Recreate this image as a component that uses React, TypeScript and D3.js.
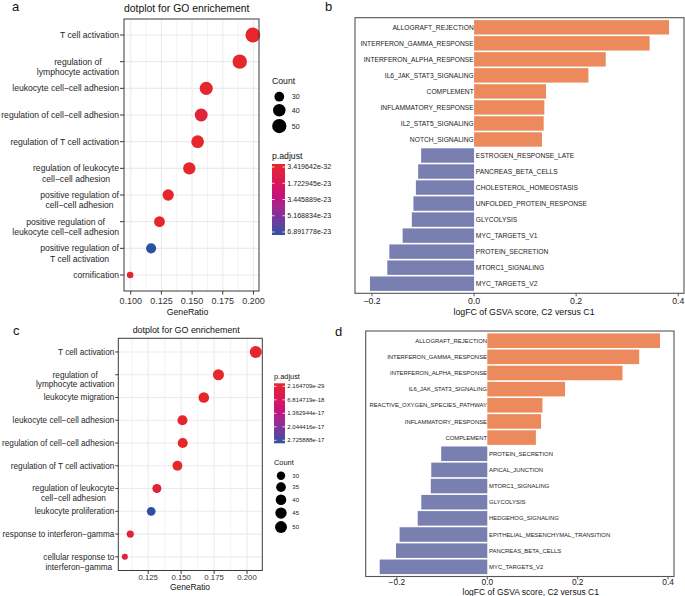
import React from "react";
import * as d3 from "d3";

const FONT = "'Liberation Sans', Arial, Helvetica, sans-serif";

// ---------------- Panel a (GO dotplot) ----------------
const aTerms = [
  "T cell activation",
  "regulation of\nlymphocyte activation",
  "leukocyte cell−cell adhesion",
  "regulation of cell−cell adhesion",
  "regulation of T cell activation",
  "regulation of leukocyte\ncell−cell adhesion",
  "positive regulation of\ncell−cell adhesion",
  "positive regulation of\nleukocyte cell−cell adhesion",
  "positive regulation of\nT cell activation",
  "cornification",
];
const aGeneRatio = [0.1995, 0.1888, 0.1615, 0.1574, 0.1545, 0.1477, 0.1305, 0.1234, 0.1166, 0.0995];
const aCount = [53, 50, 43, 42, 41, 39, 35, 33, 31, 26];
const aPadjust = [3.419642e-32, 2e-28, 1e-27, 5e-24, 3e-27, 1e-26, 8e-26, 4e-25, 6.891778e-23, 2e-25];
const aRatioTicks = [0.1, 0.125, 0.15, 0.175, 0.2];
const aRatioTickLabels = ["0.100", "0.125", "0.150", "0.175", "0.200"];
const aCountBreaks = [30, 40, 50];
const aPadjBreaks = [3.419642e-32, 1.722945e-23, 3.445889e-23, 5.168834e-23, 6.891778e-23];
const aPadjLabels = ["3.419642e-32", "1.722945e-23", "3.445889e-23", "5.168834e-23", "6.891778e-23"];

// ---------------- Panel c (GO dotplot) ----------------
const cTerms = [
  "T cell activation",
  "regulation of\nlymphocyte activation",
  "leukocyte migration",
  "leukocyte cell−cell adhesion",
  "regulation of cell−cell adhesion",
  "regulation of T cell activation",
  "regulation of leukocyte\ncell−cell adhesion",
  "leukocyte proliferation",
  "response to interferon−gamma",
  "cellular response to\ninterferon−gamma",
];
const cGeneRatio = [0.2066, 0.1783, 0.1672, 0.151, 0.1512, 0.1472, 0.1316, 0.1273, 0.1114, 0.1073];
const cCount = [50, 43, 40, 37, 37, 36, 32, 31, 27, 26];
const cPadjust = [2.164709e-29, 1e-27, 5e-27, 2e-26, 4e-26, 1e-25, 2.4e-18, 2.725888e-17, 2.0e-18, 2.6e-18];
const cRatioTicks = [0.125, 0.15, 0.175, 0.2];
const cRatioTickLabels = ["0.125", "0.150", "0.175", "0.200"];
const cCountBreaks = [30, 35, 40, 45, 50];
const cPadjBreaks = [2.164709e-29, 6.814719e-18, 1.362944e-17, 2.044416e-17, 2.725888e-17];
const cPadjLabels = ["2.164709e-29", "6.814719e-18", "1.362944e-17", "2.044416e-17", "2.725888e-17"];

// ---------------- Panel b (GSVA bars) ----------------
const bPathways = [
  "ALLOGRAFT_REJECTION",
  "INTERFERON_GAMMA_RESPONSE",
  "INTERFERON_ALPHA_RESPONSE",
  "IL6_JAK_STAT3_SIGNALING",
  "COMPLEMENT",
  "INFLAMMATORY_RESPONSE",
  "IL2_STAT5_SIGNALING",
  "NOTCH_SIGNALING",
  "ESTROGEN_RESPONSE_LATE",
  "PANCREAS_BETA_CELLS",
  "CHOLESTEROL_HOMEOSTASIS",
  "UNFOLDED_PROTEIN_RESPONSE",
  "GLYCOLYSIS",
  "MYC_TARGETS_V1",
  "PROTEIN_SECRETION",
  "MTORC1_SIGNALING",
  "MYC_TARGETS_V2",
];
const bLogFC = [0.382, 0.344, 0.258, 0.224, 0.141, 0.1376, 0.1364, 0.133, -0.1037, -0.1096, -0.114, -0.1188, -0.122, -0.14, -0.166, -0.17, -0.204];

// ---------------- Panel d (GSVA bars) ----------------
const dPathways = [
  "ALLOGRAFT_REJECTION",
  "INTERFERON_GAMMA_RESPONSE",
  "INTERFERON_ALPHA_RESPONSE",
  "IL6_JAK_STAT3_SIGNALING",
  "REACTIVE_OXYGEN_SPECIES_PATHWAY",
  "INFLAMMATORY_RESPONSE",
  "COMPLEMENT",
  "PROTEIN_SECRETION",
  "APICAL_JUNCTION",
  "MTORC1_SIGNALING",
  "GLYCOLYSIS",
  "HEDGEHOG_SIGNALING",
  "EPITHELIAL_MESENCHYMAL_TRANSITION",
  "PANCREAS_BETA_CELLS",
  "MYC_TARGETS_V2",
];
const dLogFC = [0.382, 0.336, 0.299, 0.172, 0.122, 0.119, 0.1075, -0.102, -0.124, -0.125, -0.146, -0.154, -0.194, -0.202, -0.238];

const logfcTicks = [-0.2, 0, 0.2, 0.4];
const logfcTickLabels = ["−0.2", "0.0", "0.2", "0.4"];

// ---------------- styling ----------------
const PADJ_PALETTE = ["#E5262B", "#DB1757", "#BE1483", "#7B349A", "#2C51A3"];
const UP_COLOR = "#EC8A5E";
const DOWN_COLOR = "#7A7FB2";
const GRID = "#EBEBEB";
const BORDER = "#3a3a3a";

let _ctx: CanvasRenderingContext2D | null = null;
function measure(s: string, size: number) {
  if (!_ctx) _ctx = document.createElement("canvas").getContext("2d");
  if (!_ctx) return s.length * size * 0.5;
  _ctx.font = `${size}px "Liberation Sans", Arial, sans-serif`;
  return _ctx.measureText(s).width;
}

function expand(vals: number[], mult = 0.05): [number, number] {
  const [mn, mx] = d3.extent(vals) as [number, number];
  const r = mx - mn;
  return [mn - r * mult, mx + r * mult];
}

function makeColor(padj: number[]) {
  const ext = d3.extent(padj) as [number, number];
  const norm = d3.scaleLinear().domain(ext).range([0, 1]).clamp(true);
  const pal = d3
    .scaleLinear<string>()
    .domain([0, 0.25, 0.5, 0.75, 1])
    .range(PADJ_PALETTE)
    .interpolate(d3.interpolateLab);
  return { color: (v: number) => pal(norm(v)), pal };
}

type DotLayout = {
  id: string;
  left: number; right: number; top: number; bottom: number;
  labelRight: number; yFont: number; lineH: number;
  tickFont: number; tickBase: number;
  axisX: number; axisBase: number; axisFont: number;
  titleX: number; titleBase: number; titleFont: number;
  rMin: number; rMax: number;
  legX: number; legTitleFont: number; legLabelFont: number;
  countTitleBase: number; countDotX: number; countFirstY: number; countLabelX: number;
  padjTitleBase: number; barTop: number; barBottom: number; barW: number; padjLabelX: number;
};

function DotPanel(props: {
  terms: string[]; ratio: number[]; count: number[]; padj: number[];
  ticks: number[]; tickLabels: string[]; countBreaks: number[];
  padjBreaks: number[]; padjLabels: string[]; L: DotLayout;
}) {
  const { terms, ratio, count, padj, ticks, tickLabels, countBreaks, padjBreaks, padjLabels, L } = props;
  const x = d3.scaleLinear().domain(expand(ratio)).range([L.left, L.right]);
  const y = d3.scalePoint<string>().domain(terms).range([L.top, L.bottom]).padding(0.6);
  const sizeNorm = d3.scaleLinear().domain(d3.extent(count) as [number, number]).range([0, 1]);
  const rad = (c: number) => L.rMin + (L.rMax - L.rMin) * Math.sqrt(Math.max(0, sizeNorm(c)));
  const { color, pal } = makeColor(padj);
  const step = ticks[1] - ticks[0];
  const [d0, d1] = x.domain();
  const minors: number[] = [];
  const cand = [ticks[0] - step / 2, ...ticks.map((t) => t + step / 2)];
  cand.forEach((m) => { if (m > d0 && m < d1) minors.push(m); });

  const keyPad = 2.4;
  const keyYs: number[] = [];
  let cy = L.countFirstY;
  countBreaks.forEach((b, i) => {
    if (i > 0) cy += rad(countBreaks[i - 1]) + rad(b) + keyPad;
    keyYs.push(cy);
  });

  const barY = d3
    .scaleLinear()
    .domain([padjBreaks[0], padjBreaks[padjBreaks.length - 1]])
    .range([L.barTop + 3, L.barBottom - 3]);
  const gradStops = d3.range(0, 1.0001, 0.05);

  return (
    <g fontFamily={FONT}>
      <defs>
        <linearGradient id={`grad-${L.id}`} x1="0" y1="0" x2="0" y2="1">
          {gradStops.map((s) => (
            <stop key={s} offset={s} stopColor={pal(s)} />
          ))}
        </linearGradient>
      </defs>
      <text x={L.titleX} y={L.titleBase} fontSize={L.titleFont} textAnchor="middle" fill="#111">
        dotplot for GO enrichement
      </text>
      <rect x={L.left} y={L.top} width={L.right - L.left} height={L.bottom - L.top} fill="#fff" />
      {minors.map((m) => (
        <line key={`mi${m}`} x1={x(m)} x2={x(m)} y1={L.top} y2={L.bottom} stroke={GRID} strokeWidth={0.6} />
      ))}
      {ticks.map((t) => (
        <line key={`ma${t}`} x1={x(t)} x2={x(t)} y1={L.top} y2={L.bottom} stroke={GRID} strokeWidth={1.1} />
      ))}
      {terms.map((t) => (
        <line key={`h${t}`} x1={L.left} x2={L.right} y1={y(t)} y2={y(t)} stroke={GRID} strokeWidth={1.1} />
      ))}
      {terms.map((t, i) => (
        <circle key={`c${t}`} cx={x(ratio[i])} cy={y(t)!} r={rad(count[i])} fill={color(padj[i])} />
      ))}
      <rect x={L.left} y={L.top} width={L.right - L.left} height={L.bottom - L.top} fill="none" stroke={BORDER} strokeWidth={1} />
      {terms.map((t) => (
        <line key={`yt${t}`} x1={L.labelRight + 1} x2={L.left} y1={y(t)} y2={y(t)} stroke={BORDER} strokeWidth={1} />
      ))}
      {terms.map((t) => {
        const lines = t.split("\n");
        const yy = y(t)!;
        if (lines.length === 1) {
          return (
            <text key={`yl${t}`} x={L.labelRight} y={yy} dy="0.35em" fontSize={L.yFont} textAnchor="end" fill="#262626">
              {t}
            </text>
          );
        }
        const w = Math.max(...lines.map((s) => measure(s, L.yFont)));
        const cx = L.labelRight - w / 2;
        return (
          <text key={`yl${t}`} fontSize={L.yFont} textAnchor="middle" fill="#262626">
            {lines.map((s, k) => (
              <tspan key={k} x={cx} y={yy + k * L.lineH} dy="0.35em">
                {s}
              </tspan>
            ))}
          </text>
        );
      })}
      {ticks.map((t, i) => (
        <g key={`xt${t}`}>
          <line x1={x(t)} x2={x(t)} y1={L.bottom} y2={L.bottom + 3.5} stroke={BORDER} strokeWidth={1} />
          <text x={x(t)} y={L.tickBase} fontSize={L.tickFont} textAnchor="middle" fill="#333">
            {tickLabels[i]}
          </text>
        </g>
      ))}
      <text x={L.axisX} y={L.axisBase} fontSize={L.axisFont} textAnchor="middle" fill="#111">
        GeneRatio
      </text>

      <text x={L.legX} y={L.countTitleBase} fontSize={L.legTitleFont} fill="#111">
        Count
      </text>
      {countBreaks.map((b, i) => (
        <g key={`k${b}`}>
          <circle cx={L.countDotX} cy={keyYs[i]} r={rad(b)} fill="#000" />
          <text x={L.countLabelX} y={keyYs[i]} dy="0.35em" fontSize={L.legLabelFont} fill="#222">
            {b}
          </text>
        </g>
      ))}

      <text x={L.legX} y={L.padjTitleBase} fontSize={L.legTitleFont} fill="#111">
        p.adjust
      </text>
      <rect x={L.legX} y={L.barTop} width={L.barW} height={L.barBottom - L.barTop} fill={`url(#grad-${L.id})`} />
      {padjBreaks.map((b, i) => (
        <g key={`pb${i}`}>
          <line x1={L.legX} x2={L.legX + 2.5} y1={barY(b)} y2={barY(b)} stroke="#fff" strokeWidth={0.8} />
          <line x1={L.legX + L.barW - 2.5} x2={L.legX + L.barW} y1={barY(b)} y2={barY(b)} stroke="#fff" strokeWidth={0.8} />
          <text x={L.padjLabelX} y={barY(b)} dy="0.35em" fontSize={L.legLabelFont} fill="#222">
            {padjLabels[i]}
          </text>
        </g>
      ))}
    </g>
  );
}

type BarLayout = {
  left: number; right: number; top: number; bottom: number;
  labelFont: number; tickFont: number; tickBase: number;
  titleX: number; titleBase: number; titleFont: number;
};

function BarPanel(props: { names: string[]; values: number[]; L: BarLayout }) {
  const { names, values, L } = props;
  const x = d3.scaleLinear().domain(expand(values)).range([L.left, L.right]);
  const y = d3.scaleBand<string>().domain(names).range([L.top, L.bottom]).paddingInner(0.1).paddingOuter(0.15);
  const x0 = x(0);
  return (
    <g fontFamily={FONT}>
      <rect x={L.left} y={L.top} width={L.right - L.left} height={L.bottom - L.top} fill="#fff" />
      {names.map((n, i) => {
        const v = values[i];
        const xa = Math.min(x(v), x0);
        const w = Math.abs(x(v) - x0);
        return <rect key={`b${n}`} x={xa} y={y(n)} width={w} height={y.bandwidth()} fill={v >= 0 ? UP_COLOR : DOWN_COLOR} />;
      })}
      {names.map((n, i) => {
        const v = values[i];
        const yy = (y(n) as number) + y.bandwidth() / 2;
        return (
          <text
            key={`l${n}`}
            x={v >= 0 ? x0 - 0.3 : x0 + 1.8}
            y={yy}
            dy="0.36em"
            fontSize={L.labelFont}
            textAnchor={v >= 0 ? "end" : "start"}
            fill="#1a1a1a"
          >
            {n}
          </text>
        );
      })}
      <rect x={L.left} y={L.top} width={L.right - L.left} height={L.bottom - L.top} fill="none" stroke="#555" strokeWidth={1.1} />
      {logfcTicks.map((t, i) => (
        <g key={`t${t}`}>
          <line x1={x(t)} x2={x(t)} y1={L.bottom} y2={L.bottom + 3} stroke="#555" strokeWidth={1} />
          <text x={x(t)} y={L.tickBase} fontSize={L.tickFont} textAnchor="middle" fill="#222">
            {logfcTickLabels[i]}
          </text>
        </g>
      ))}
      <text x={L.titleX} y={L.titleBase} fontSize={L.titleFont} textAnchor="middle" fill="#111">
        logFC of GSVA score, C2 versus C1
      </text>
    </g>
  );
}

const layoutA: DotLayout = {
  id: "a",
  left: 124, right: 259, top: 19, bottom: 291,
  labelRight: 119, yFont: 8.6, lineH: 10.4,
  tickFont: 9, tickBase: 304,
  axisX: 187.5, axisBase: 315, axisFont: 8.7,
  titleX: 186.7, titleBase: 12, titleFont: 10.4,
  rMin: 3.3, rMax: 7.4,
  legX: 272, legTitleFont: 8.7, legLabelFont: 7.1,
  countTitleBase: 84, countDotX: 279.3, countFirstY: 96.7, countLabelX: 291.7,
  padjTitleBase: 159, barTop: 164, barBottom: 235, barW: 13, padjLabelX: 287.3,
};

const layoutC: DotLayout = {
  id: "c",
  left: 118.3, right: 262.3, top: 338.3, bottom: 570.5,
  labelRight: 114.3, yFont: 8.2, lineH: 9.8,
  tickFont: 7.8, tickBase: 580,
  axisX: 190, axisBase: 589.7, axisFont: 8.4,
  titleX: 186.2, titleBase: 333, titleFont: 8.9,
  rMin: 3.0, rMax: 6.0,
  legX: 274, legTitleFont: 7.4, legLabelFont: 6,
  countTitleBase: 465.3, countDotX: 281, countFirstY: 475.7, countLabelX: 292.3,
  padjTitleBase: 379.3, barTop: 383.3, barBottom: 443.3, barW: 11, padjLabelX: 287.3,
};

const layoutB: BarLayout = {
  left: 355, right: 684, top: 17.7, bottom: 293.3,
  labelFont: 6.7, tickFont: 8.7, tickBase: 304,
  titleX: 524, titleBase: 315, titleFont: 8.8,
};

const layoutD: BarLayout = {
  left: 365.7, right: 674, top: 331, bottom: 576.5,
  labelFont: 5.9, tickFont: 8.4, tickBase: 585.3,
  titleX: 530.7, titleBase: 595, titleFont: 8.5,
};

export default function App() {
  return (
    <svg
      width={685}
      height={596}
      viewBox="0 0 685 596"
      style={{ position: "absolute", left: 0, top: 0, background: "#fff" }}
    >
      <rect x={0} y={0} width={685} height={596} fill="#fff" />
      <DotPanel
        terms={aTerms} ratio={aGeneRatio} count={aCount} padj={aPadjust}
        ticks={aRatioTicks} tickLabels={aRatioTickLabels} countBreaks={aCountBreaks}
        padjBreaks={aPadjBreaks} padjLabels={aPadjLabels} L={layoutA}
      />
      <BarPanel names={bPathways} values={bLogFC} L={layoutB} />
      <DotPanel
        terms={cTerms} ratio={cGeneRatio} count={cCount} padj={cPadjust}
        ticks={cRatioTicks} tickLabels={cRatioTickLabels} countBreaks={cCountBreaks}
        padjBreaks={cPadjBreaks} padjLabels={cPadjLabels} L={layoutC}
      />
      <BarPanel names={dPathways} values={dLogFC} L={layoutD} />
      <g fontFamily={FONT} fontSize={13} fill="#111">
        <text x={12} y={11}>a</text>
        <text x={325} y={11}>b</text>
        <text x={13} y={335}>c</text>
        <text x={335} y={336}>d</text>
      </g>
    </svg>
  );
}
